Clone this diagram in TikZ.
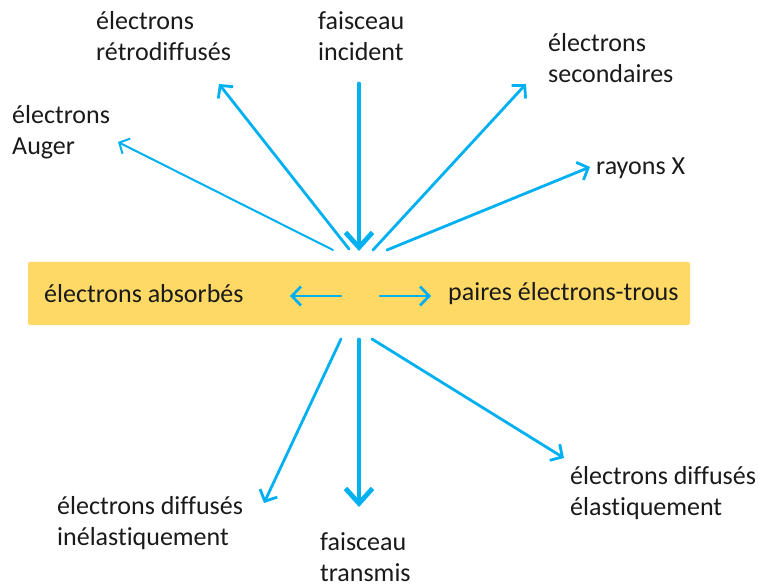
\documentclass[tikz,border=0pt]{standalone}
\usepackage{fontspec}
\setmainfont{Carlito}[Ligatures=CommonOff]
\usetikzlibrary{arrows.meta}
\definecolor{beam}{HTML}{00B0F0}
\definecolor{band}{HTML}{FFD966}
\definecolor{txt}{HTML}{1A1A1A}
\tikzset{
  lbl/.style={anchor=west,inner sep=0pt,align=left,text=txt,font=\fontsize{26}{30.5}\selectfont},
  thin/.style={draw=beam,line width=2.8pt,line cap=round,-{Straight Barb[length=9pt,width=19pt,line width=2.8pt]}},
  thinner/.style={draw=beam,line width=2pt,line cap=round,-{Straight Barb[length=8pt,width=17pt,line width=2pt]}},
  thick/.style={draw=beam,line width=4.8pt,line cap=round,-{Straight Barb[length=15pt,width=27pt,line width=4.8pt]}}
}
\begin{document}
\begin{tikzpicture}[x=1pt,y=-1pt]
\useasboundingbox (0,0) rectangle (758,588);
\node[fill=band,rounded corners=2pt,minimum width=662pt,minimum height=63pt,inner sep=0pt] (bandbox) at (359,293.5) {};
% text nodes
\node[lbl] (retro) at (96,36) {électrons\\rétrodiffusés};
\node[lbl] (inc) at (318,36) {faisceau\\incident};
\node[lbl] (sec) at (548,58) {électrons\\secondaires};
\node[lbl] (aug) at (12,132) {électrons\\Auger};
\node[lbl] (rx) at (596,168) {rayons X};
\node[lbl] (abs) at (44,294) {électrons absorbés};
\node[lbl] (paires) at (448,294) {paires électrons-trous};
\node[lbl] (inel) at (57,523) {électrons diffusés\\inélastiquement};
\node[lbl] (trans) at (320,557) {faisceau\\transmis};
\node[lbl] (elas) at (570,493) {électrons diffusés\\élastiquement};
% coordinates
\coordinate (incS) at (359,84);
\coordinate (incT) at (359,251);
\coordinate (retS) at (349,249);
\coordinate (retT) at (219,84);
\coordinate (augS) at (333,250);
\coordinate (augT) at (118,142);
\coordinate (secS) at (373,250);
\coordinate (secT) at (526,84);
\coordinate (rxS) at (387,250);
\coordinate (rxT) at (590,167);
\coordinate (absS) at (341,296);
\coordinate (absT) at (290,296);
\coordinate (parS) at (380,296);
\coordinate (parT) at (431,296);
\coordinate (inS) at (341,339);
\coordinate (inT) at (264,503);
\coordinate (trS) at (359,340);
\coordinate (trT) at (359,507);
\coordinate (elS) at (372,339);
\coordinate (elT) at (564,458);
% arrows
\draw[thick] (incS) -- (incT);
\draw[thin] (retS) -- (retT);
\draw[thinner] (augS) -- (augT);
\draw[thin] (secS) -- (secT);
\draw[thin] (rxS) -- (rxT);
\draw[thin] (absS) -- (absT);
\draw[thin] (parS) -- (parT);
\draw[thin] (inS) -- (inT);
\draw[thick] (trS) -- (trT);
\draw[thin] (elS) -- (elT);
\end{tikzpicture}
\end{document}
